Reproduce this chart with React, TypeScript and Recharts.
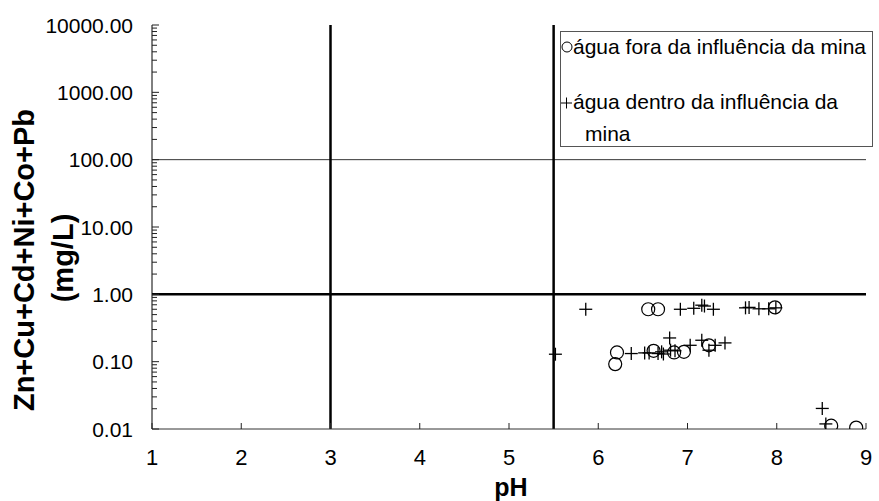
import React from 'react';
import { ScatterChart, Scatter, XAxis, YAxis, ReferenceLine } from 'recharts';

// pH and metal sum (mg/L) — water outside the mine's influence (circles)
const foraPH = [6.56, 6.67, 7.98, 6.21, 6.19, 6.62, 6.85, 6.96, 7.24, 8.61, 8.89];
const foraMetals = [0.6, 0.6, 0.64, 0.137, 0.092, 0.145, 0.137, 0.14, 0.175, 0.0112, 0.0105];

// water inside the mine's influence (crosses)
const dentroPH = [5.86, 5.52, 6.92, 7.07, 7.16, 7.19, 7.29, 7.65, 7.69, 7.8, 7.91, 7.99, 6.8, 6.37, 6.52, 6.57, 6.67, 6.71, 6.73, 6.81, 6.86, 7.03, 7.16, 7.24, 7.31, 7.42, 8.51, 8.55];
const dentroMetals = [0.6, 0.129, 0.6, 0.62, 0.69, 0.67, 0.6, 0.63, 0.64, 0.61, 0.61, 0.63, 0.225, 0.132, 0.135, 0.135, 0.132, 0.14, 0.13, 0.148, 0.145, 0.175, 0.208, 0.148, 0.175, 0.19, 0.0202, 0.0119];

const xTicks = [1, 2, 3, 4, 5, 6, 7, 8, 9];
const decadeTicks = [0.01, 0.1, 1, 10, 100, 1000, 10000];
const minorMultipliers = [2, 3, 4, 5, 6, 7, 8, 9];
const phLimits = [3, 5.5];
const thickMetalLimit = 1;
const thinMetalLimit = 100;

const legendNames = ['água fora da influência da mina', 'água dentro da influência da mina'];
const xLabel = 'pH';
const yLabelLines = ['Zn+Cu+Cd+Ni+Co+Pb', '(mg/L)'];

const foraData = foraPH.map((x, i) => ({ x, y: foraMetals[i] }));
const dentroData = dentroPH.map((x, i) => ({ x, y: dentroMetals[i] }));

const yTicks: number[] = [];
decadeTicks.forEach((d, i) => {
  yTicks.push(d);
  if (i < decadeTicks.length - 1) {
    minorMultipliers.forEach((m) => yTicks.push(Number((m * d).toPrecision(2))));
  }
});

const FONT = '"Liberation Sans", Arial, Helvetica, sans-serif';

const CircleShape = (props: any) => {
  const { cx, cy } = props;
  if (cx == null || cy == null) return null;
  return <circle cx={cx} cy={cy} r={6.5} fill="none" stroke="#000" strokeWidth={1.2} />;
};

const CrossShape = (props: any) => {
  const { cx, cy } = props;
  if (cx == null || cy == null) return null;
  const a = 6.5;
  return (
    <g stroke="#000" strokeWidth={1.3}>
      <line x1={cx - a} y1={cy} x2={cx + a} y2={cy} />
      <line x1={cx} y1={cy - a} x2={cx} y2={cy + a} />
    </g>
  );
};

const YTick = (props: any) => {
  const { x, y, payload } = props;
  const v = payload.value;
  const major = decadeTicks.includes(v);
  return (
    <g>
      <rect x={x} y={y - 0.5} width={major ? 7 : 5} height={1} fill="#222" />
      {major && (
        <text x={x - 19} y={y + 7.5} textAnchor="end" fontSize={21} fontFamily={FONT} fill="#000">
          {v.toFixed(2)}
        </text>
      )}
    </g>
  );
};

const XTick = (props: any) => {
  const { x, y, payload } = props;
  return (
    <g>
      <rect x={x - 0.5} y={y - 6} width={1} height={6} fill="#222" />
      <text x={x} y={y + 36} textAnchor="middle" fontSize={22} fontFamily={FONT} fill="#000">
        {payload.value}
      </text>
    </g>
  );
};

export default function App() {
  const lastSpace = legendNames[1].lastIndexOf(' ');
  const dentroLine1 = legendNames[1].slice(0, lastSpace);
  const dentroLine2 = legendNames[1].slice(lastSpace + 1);
  return (
    <div style={{ position: 'absolute', left: 0, top: 0, width: 879, height: 501, overflow: 'hidden', background: '#fff' }}>
      <div style={{ position: 'absolute', left: 0, top: 0 }}>
        <ScatterChart width={879} height={501} margin={{ top: 25, right: 13, bottom: 32, left: 52 }}>
          <XAxis
            type="number"
            dataKey="x"
            domain={[1, 9]}
            ticks={xTicks}
            interval={0}
            allowDataOverflow
            axisLine={{ stroke: '#333', strokeWidth: 1 }}
            tickLine={false}
            tickSize={0}
            tickMargin={0}
            tick={<XTick />}
            height={40}
          />
          <YAxis
            type="number"
            dataKey="y"
            scale="log"
            domain={[0.01, 10000]}
            ticks={yTicks}
            interval={0}
            allowDataOverflow
            axisLine={{ stroke: '#000', strokeWidth: 1 }}
            tickLine={false}
            tickSize={0}
            tickMargin={0}
            tick={<YTick />}
            width={100}
          />
          <ReferenceLine y={thinMetalLimit} stroke="#333" strokeWidth={1} />
          <ReferenceLine y={thickMetalLimit} stroke="#000" strokeWidth={2.5} />
          {phLimits.map((p) => (
            <ReferenceLine key={p} x={p} stroke="#000" strokeWidth={2.5} />
          ))}
          <Scatter name={legendNames[0]} data={foraData} shape={<CircleShape />} isAnimationActive={false} />
          <Scatter name={legendNames[1]} data={dentroData} shape={<CrossShape />} isAnimationActive={false} />
        </ScatterChart>
      </div>
      <svg
        width={879}
        height={501}
        style={{ position: 'absolute', left: 0, top: 0, pointerEvents: 'none' }}
      >
        {/* axis titles */}
        <text x={511} y={496} textAnchor="middle" fontSize={25} fontWeight="bold" fontFamily={FONT} fill="#000">
          {xLabel}
        </text>
        <text transform="translate(33.5, 260) rotate(-90)" textAnchor="middle" fontSize={29} fontWeight="bold" fontFamily={FONT} fill="#000">
          {yLabelLines[0]}
        </text>
        <text transform="translate(73, 258) rotate(-90)" textAnchor="middle" fontSize={29} fontWeight="bold" fontFamily={FONT} fill="#000">
          {yLabelLines[1]}
        </text>
        {/* legend */}
        <rect x={560.5} y={31.5} width={312} height={115} fill="#fff" stroke="#555" strokeWidth={1} />
        <circle cx={567} cy={47} r={5} fill="none" stroke="#000" strokeWidth={1} />
        <text x={573} y={54} fontSize={21} fontFamily={FONT} fill="#000">
          {legendNames[0]}
        </text>
        <g stroke="#000" strokeWidth={1}>
          <line x1={561} y1={103} x2={572} y2={103} />
          <line x1={566.5} y1={97.5} x2={566.5} y2={108.5} />
        </g>
        <text x={573} y={109} fontSize={21} fontFamily={FONT} fill="#000">
          {dentroLine1}
        </text>
        <text x={585} y={141} fontSize={21} fontFamily={FONT} fill="#000">
          {dentroLine2}
        </text>
      </svg>
    </div>
  );
}
